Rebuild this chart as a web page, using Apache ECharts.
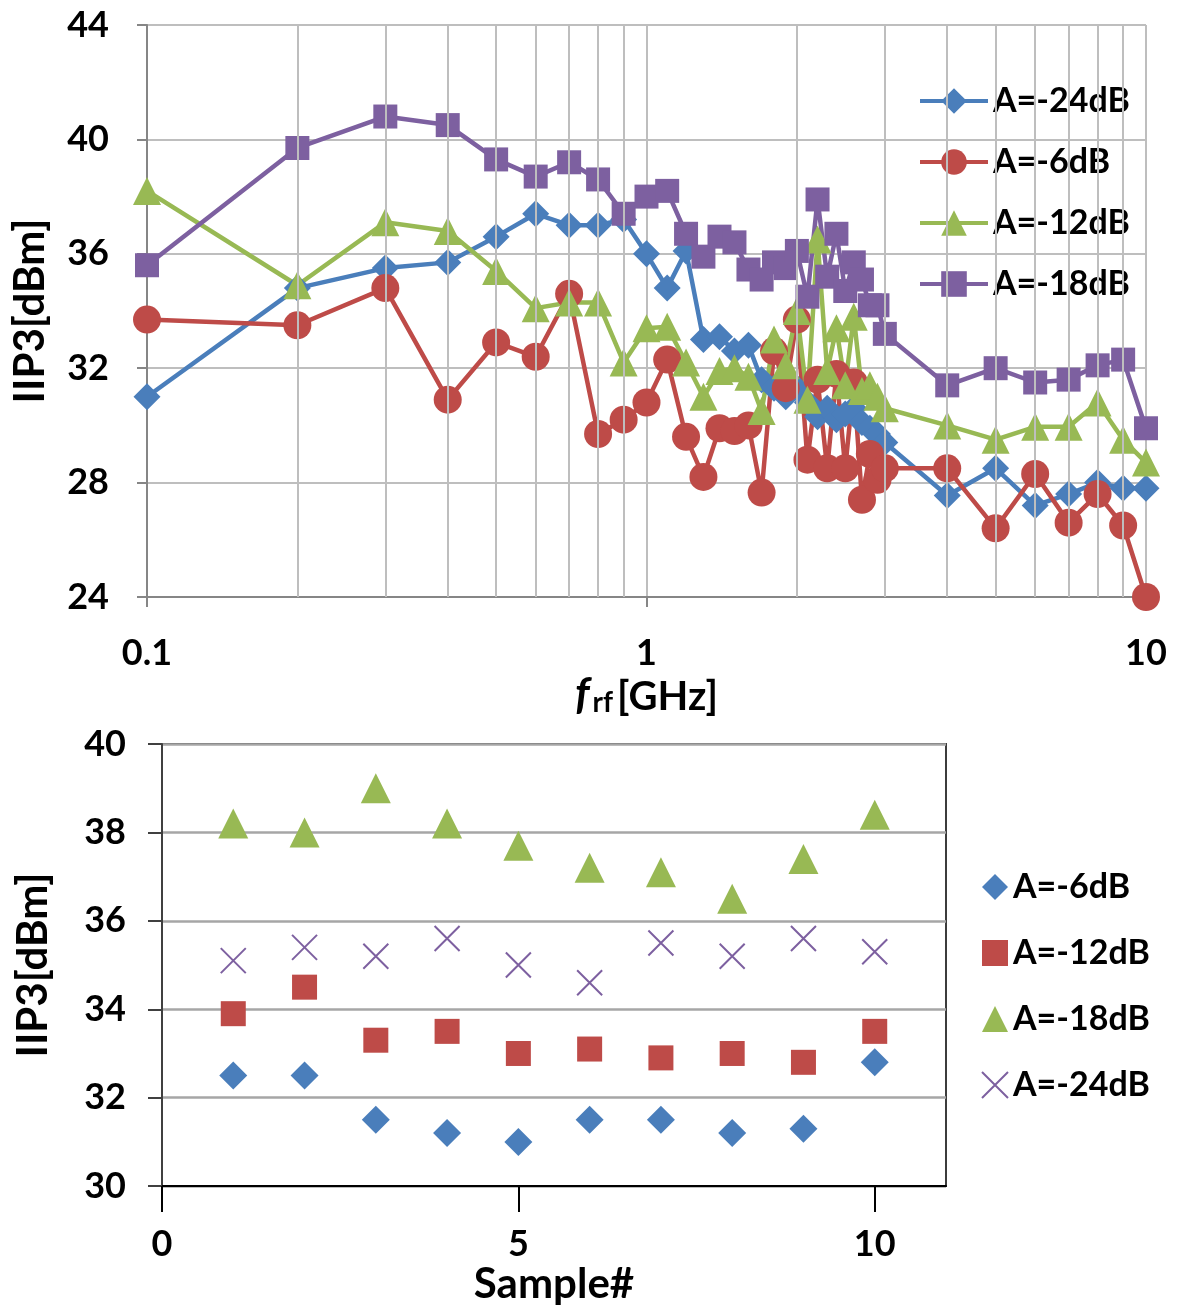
<!DOCTYPE html>
<html>
<head>
<meta charset="utf-8">
<script src="https://cdn.jsdelivr.net/npm/echarts@6/dist/echarts.min.js"></script>
<style>
  html, body { margin: 0; padding: 0; background: #fff; }
  #chart { width: 1179px; height: 1306px; }
</style>
</head>
<body>
<div id="chart"></div>
<script>
// top chart: IIP3 vs frequency
var freqs = [0.1, 0.2, 0.3, 0.4, 0.5, 0.6, 0.7, 0.8, 0.9, 1.0,
  1.1, 1.2, 1.3, 1.4, 1.5, 1.6, 1.7, 1.8, 1.9, 2.0,
  2.1, 2.2, 2.3, 2.4, 2.5, 2.6, 2.7, 2.8, 2.9, 3.0,
  4, 5, 6, 7, 8, 9, 10];
var a24 = [31.0, 34.8, 35.5, 35.7, 36.6, 37.4, 37.0, 37.0, 37.2, 36.0,
  34.8, 36.1, 33.0, 33.1, 32.6, 32.8, 31.6, 31.3, 31.0, 31.3,
  30.8, 30.3, 30.6, 30.2, 30.4, 30.6, 30.1, 29.9, 29.7, 29.4,
  27.55, 28.5, 27.2, 27.6, 28.0, 27.8, 27.8];
var a6 = [33.7, 33.5, 34.8, 30.9, 32.9, 32.4, 34.6, 29.7, 30.2, 30.8,
  32.3, 29.6, 28.2, 29.9, 29.8, 30.0, 27.65, 32.6, 31.3, 33.7,
  28.8, 31.6, 28.5, 31.8, 28.5, 31.5, 27.4, 29.0, 28.1, 28.5,
  28.5, 26.4, 28.3, 26.6, 27.6, 26.5, 24.0];
var a12 = [38.2, 34.9, 37.1, 36.8, 35.4, 34.1, 34.3, 34.3, 32.2, 33.4,
  33.45, 32.2, 31.0, 31.9, 32.0, 31.7, 30.5, 33.0, 32.1, 34.0,
  30.9, 36.5, 31.9, 33.4, 31.4, 33.8, 31.2, 31.4, 31.0, 30.6,
  30.0, 29.5, 29.95, 29.95, 30.8, 29.5, 28.7];
var a18 = [35.6, 39.7, 40.8, 40.5, 39.3, 38.7, 39.2, 38.6, 37.4, 38.0,
  38.2, 36.7, 35.9, 36.6, 36.4, 35.45, 35.1, 35.7, 35.5, 36.1,
  34.5, 37.9, 35.2, 36.7, 34.7, 35.7, 35.1, 34.2, 34.2, 33.2,
  31.4, 32.0, 31.5, 31.6, 32.1, 32.3, 29.9];
var minorFreqs = [0.2, 0.3, 0.4, 0.5, 0.6, 0.7, 0.8, 0.9, 2, 3, 4, 5, 6, 7, 8, 9];

// bottom chart: IIP3 per sample
var samples = [1, 2, 3, 4, 5, 6, 7, 8, 9, 10];
var s6 = [32.5, 32.5, 31.5, 31.2, 31.0, 31.5, 31.5, 31.2, 31.3, 32.8];
var s12 = [33.9, 34.5, 33.3, 33.5, 33.0, 33.1, 32.9, 33.0, 32.8, 33.5];
var s18 = [38.2, 38.0, 39.0, 38.2, 37.7, 37.2, 37.1, 36.5, 37.4, 38.4];
var s24 = [35.1, 35.4, 35.2, 35.6, 35.0, 34.6, 35.5, 35.2, 35.6, 35.3];

var BLUE = '#4A7EBB', RED = '#BE4B48', GREEN = '#98B954', PURPLE = '#7D60A0';
var FONT = 'Lato';

function pairs(xs, ys) {
  return xs.map(function (x, i) { return [x, ys[i]]; });
}

function lineSeries(name, ys, color, symbol, size) {
  return {
    name: name, type: 'line', xAxisIndex: 0, yAxisIndex: 0,
    data: pairs(freqs, ys),
    symbol: symbol, symbolSize: size,
    lineStyle: { color: color, width: 4.5 },
    itemStyle: { color: color, opacity: 1 },
    z: 3
  };
}

function dotSeries(name, ys, color, symbol, size) {
  return {
    name: name, type: 'scatter', xAxisIndex: 1, yAxisIndex: 1,
    data: pairs(samples, ys),
    symbol: symbol, symbolSize: size,
    itemStyle: { color: color, opacity: 1 },
    z: 3
  };
}

var myChart = echarts.init(document.getElementById('chart'));

var option = {
  animation: false,
  textStyle: { fontFamily: FONT, fontWeight: 'bold', color: '#000' },
  grid: [
    { left: 147, top: 25, width: 999, height: 572 },
    { left: 162, top: 744, width: 784, height: 443, show: true, borderColor: '#3c3c3c', borderWidth: 2 }
  ],
  legend: [
    {
      data: ['A=-24dB', 'A=-6dB', 'A=-12dB', 'A=-18dB'],
      orient: 'vertical', left: 913, top: 79, itemGap: 27,
      itemWidth: 68, itemHeight: 32,
      lineStyle: { width: 4 },
      textStyle: { fontFamily: FONT, fontWeight: 'bold', fontSize: 34, color: '#000' }
    },
    {
      data: ['A=-6dB ', 'A=-12dB ', 'A=-18dB ', 'A=-24dB '],
      orient: 'vertical', left: 976, top: 865, itemGap: 32,
      itemWidth: 26, itemHeight: 26,
      textStyle: { fontFamily: FONT, fontWeight: 'bold', fontSize: 34, color: '#000' }
    }
  ],
  xAxis: [
    {
      gridIndex: 0, type: 'log', logBase: 10, min: 0.1, max: 10,
      axisLine: { lineStyle: { color: '#868686', width: 2 } },
      axisTick: { length: 10, lineStyle: { color: '#868686', width: 2 } },
      axisLabel: { fontSize: 36, fontWeight: 'bold', color: '#000', margin: 38, fontFamily: FONT },
      splitLine: { show: true, lineStyle: { color: '#BEBEBE', width: 2 } },
      name: '{i|f}{s|rf}{n|[GHz]}',
      nameLocation: 'middle', nameGap: 76,
      nameTextStyle: {
        rich: {
          i: { fontSize: 44, fontStyle: 'italic', fontWeight: 'bold', fontFamily: FONT, color: '#000', verticalAlign: 'bottom' },
          s: { fontSize: 28, fontWeight: 'bold', fontFamily: FONT, color: '#000', verticalAlign: 'bottom', padding: [0, 4, 0, 3] },
          n: { fontSize: 40, fontWeight: 'bold', fontFamily: FONT, color: '#000', verticalAlign: 'bottom' }
        }
      }
    },
    {
      gridIndex: 1, type: 'value', min: 0, max: 11, interval: 5,
      axisLine: { onZero: false, lineStyle: { color: '#000', width: 2 } },
      axisTick: { length: 26, customValues: [0, 5, 10], lineStyle: { color: '#000', width: 2 } },
      axisLabel: { customValues: [0, 5, 10], fontSize: 36, fontWeight: 'bold', color: '#000', margin: 40, fontFamily: FONT },
      splitLine: { show: false },
      name: 'Sample#', nameLocation: 'middle', nameGap: 74,
      nameTextStyle: { fontSize: 42, fontWeight: 'bold', fontFamily: FONT, color: '#000' }
    }
  ],
  yAxis: [
    {
      gridIndex: 0, type: 'value', min: 24, max: 44, interval: 4,
      axisLine: { show: true, lineStyle: { color: '#868686', width: 2 } },
      axisTick: { show: true, length: 10, lineStyle: { color: '#868686', width: 2 } },
      axisLabel: { fontSize: 36, fontWeight: 'bold', color: '#000', margin: 38, fontFamily: FONT },
      splitLine: { show: true, lineStyle: { color: '#BEBEBE', width: 2 } },
      name: 'IIP3[dBm]', nameLocation: 'middle', nameGap: 96,
      nameTextStyle: { fontSize: 42, fontWeight: 'bold', fontFamily: FONT, color: '#000' }
    },
    {
      gridIndex: 1, type: 'value', min: 30, max: 40, interval: 2,
      axisLine: { show: true, lineStyle: { color: '#404040', width: 2 } },
      axisTick: { show: true, length: 14, lineStyle: { color: '#404040', width: 2 } },
      axisLabel: { fontSize: 36, fontWeight: 'bold', color: '#000', margin: 36, fontFamily: FONT },
      splitLine: { show: true, lineStyle: { color: '#A6A6A6', width: 2.5 } },
      name: 'IIP3[dBm]', nameLocation: 'middle', nameGap: 108,
      nameTextStyle: { fontSize: 42, fontWeight: 'bold', fontFamily: FONT, color: '#000' }
    }
  ],
  series: [
    {
      name: 'minor-grid', type: 'line', xAxisIndex: 0, yAxisIndex: 0, data: [], z: 1,
      markLine: {
        silent: true, symbol: ['none', 'none'], label: { show: false },
        lineStyle: { color: '#BEBEBE', width: 2, type: 'solid' },
        data: minorFreqs.map(function (f) { return { xAxis: f }; })
      }
    },
    lineSeries('A=-24dB', a24, BLUE, 'diamond', 27),
    lineSeries('A=-6dB', a6, RED, 'circle', 28),
    lineSeries('A=-12dB', a12, GREEN, 'triangle', 28),
    lineSeries('A=-18dB', a18, PURPLE, 'rect', 24),
    dotSeries('A=-6dB ', s6, BLUE, 'diamond', 28),
    dotSeries('A=-12dB ', s12, RED, 'rect', 25),
    dotSeries('A=-18dB ', s18, GREEN, 'triangle', 30),
    {
      name: 'A=-24dB ', type: 'scatter', xAxisIndex: 1, yAxisIndex: 1,
      data: pairs(samples, s24),
      symbol: 'path://M0,0L10,10M10,0L0,10', symbolSize: 25,
      itemStyle: { color: 'rgba(0,0,0,0)', borderColor: PURPLE, borderWidth: 2, opacity: 1 },
      z: 3
    }
  ]
};

myChart.setOption(option);
</script>
</body>
</html>
